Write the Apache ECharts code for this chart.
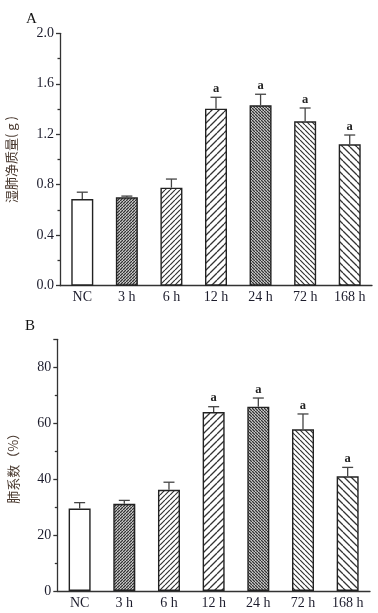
<!DOCTYPE html>
<html>
<head>
<meta charset="utf-8">
<script src="https://cdn.jsdelivr.net/npm/echarts@6/dist/echarts.min.js"></script>
<style>html,body{margin:0;padding:0;background:#fff}#c{width:378px;height:613px}</style>
</head>
<body>
<div id="c"></div>
<script>
var categories = ['NC', '3 h', '6 h', '12 h', '24 h', '72 h', '168 h'];
var wetMass = [0.687, 0.700, 0.777, 1.403, 1.430, 1.303, 1.120];
var wetMassErr = [0.054, 0.010, 0.068, 0.090, 0.087, 0.105, 0.074];
var lungIndex = [29.5, 31.2, 36.2, 64.0, 65.9, 57.8, 41.0];
var lungIndexErr = [2.1, 1.2, 2.7, 1.9, 3.1, 5.5, 3.2];
var sigMarks = ['', '', '', 'a', 'a', 'a', 'a'];
var yTicksA = [0, 0.4, 0.8, 1.2, 1.6, 2.0];
var yTicksB = [0, 20, 40, 60, 80];

function hatch(period, dir, lw, color) {
  var c = document.createElement('canvas');
  c.width = period; c.height = period;
  var g = c.getContext('2d');
  g.fillStyle = '#fff'; g.fillRect(0, 0, period, period);
  g.strokeStyle = color; g.lineWidth = lw;
  g.beginPath();
  for (var k = -1; k <= 1; k++) {
    if (dir > 0) {
      g.moveTo(k * period, period); g.lineTo(k * period + period, 0);
    } else {
      g.moveTo(k * period, 0); g.lineTo(k * period + period, period);
    }
  }
  g.stroke();
  return { image: c, repeat: 'repeat' };
}
var fills = [
  '#ffffff',
  hatch(3, 1, 1.5, '#333'),
  hatch(5, 1, 1.2, '#333'),
  hatch(7, 1, 1.3, '#333'),
  hatch(3, -1, 1.5, '#333'),
  hatch(5, -1, 1.2, '#333'),
  hatch(7, -1, 1.3, '#333')
];

function barData(vals) {
  return vals.map(function (v, i) {
    return { value: v, itemStyle: { color: fills[i] } };
  });
}
function errData(vals, errs) {
  return vals.map(function (v, i) { return [i, v, v + errs[i]]; });
}
function errRender(params, api) {
  var base = api.coord([api.value(0), api.value(1)]);
  var top = api.coord([api.value(0), api.value(2)]);
  var x = base[0], cap = 5.5;
  var children = [
    { type: 'line', shape: { x1: x, y1: base[1], x2: x, y2: top[1] }, style: { stroke: '#444', lineWidth: 1.3 } },
    { type: 'line', shape: { x1: x - cap, y1: top[1], x2: x + cap, y2: top[1] }, style: { stroke: '#444', lineWidth: 1.3 } }
  ];
  var s = sigMarks[params.dataIndex];
  if (s) {
    children.push({ type: 'text', x: x, y: top[1] - 2,
      style: { text: s, fill: '#222', font: 'bold 12.5px "Liberation Serif"', align: 'center', verticalAlign: 'bottom' } });
  }
  return { type: 'group', children: children };
}

var axisLineStyle = { color: '#333', width: 1.3 };
var labelFont = { fontFamily: 'Liberation Serif', fontSize: 14, color: '#1c1c2c' };

function xAxes(gi) {
  return [
    { gridIndex: gi, type: 'category', data: categories, boundaryGap: true,
      axisLine: { lineStyle: axisLineStyle },
      axisTick: { alignWithLabel: true, length: 4, lineStyle: axisLineStyle },
      axisLabel: Object.assign({ margin: 5, interval: 0, hideOverlap: false }, labelFont) },
    { gridIndex: gi, type: 'category', data: categories, boundaryGap: true, position: 'bottom',
      axisLine: { show: false },
      axisTick: { length: 2, lineStyle: axisLineStyle },
      axisLabel: { show: false } }
  ];
}

var chart = echarts.init(document.getElementById('c'), null, { renderer: 'canvas' });
chart.setOption({
  animation: false,
  backgroundColor: '#fff',
  title: [
    { text: 'A', left: 21, top: 7, textStyle: { fontFamily: 'Liberation Serif', fontSize: 15, fontWeight: 'normal', color: '#111' } },
    { text: 'B', left: 20, top: 314, textStyle: { fontFamily: 'Liberation Serif', fontSize: 15, fontWeight: 'normal', color: '#111' } }
  ],
  grid: [
    { left: 60, top: 33.3, right: 6, height: 252.4, outerBoundsMode: 'none', containLabel: false },
    { left: 57.3, top: 339.3, right: 8, height: 251.7, outerBoundsMode: 'none', containLabel: false }
  ],
  xAxis: xAxes(0).concat(xAxes(1)),
  yAxis: [
    { gridIndex: 0, type: 'value', min: 0, max: 2.0, interval: 0.4,
      name: '湿肺净质量( g )', nameLocation: 'middle', nameGap: 42,
      nameTextStyle: { fontFamily: 'Noto Sans CJK SC', fontSize: 13, color: '#4a3a30' },
      axisLine: { show: true, lineStyle: axisLineStyle },
      axisTick: { show: true, length: 4, lineStyle: axisLineStyle },
      minorTick: { show: true, splitNumber: 2, length: 2.5, lineStyle: axisLineStyle },
      splitLine: { show: false },
      axisLabel: Object.assign({ margin: 6, formatter: function (v) { return yTicksA.indexOf(+v.toFixed(1)) >= 0 ? v.toFixed(1) : ''; } }, labelFont) },
    { gridIndex: 1, type: 'value', min: 0, max: 90, interval: 20,
      name: '肺系数（%）', nameLocation: 'middle', nameGap: 38,
      nameTextStyle: { fontFamily: 'Noto Sans CJK SC', fontSize: 13, color: '#4a3a30' },
      axisLine: { show: true, lineStyle: axisLineStyle },
      axisTick: { show: true, length: 4, lineStyle: axisLineStyle },
      minorTick: { show: true, splitNumber: 2, length: 2.5, lineStyle: axisLineStyle },
      splitLine: { show: false },
      axisLabel: Object.assign({ margin: 6, formatter: function (v) { return yTicksB.indexOf(v) >= 0 ? String(v) : ''; } }, labelFont) }
  ],
  series: [
    { type: 'bar', xAxisIndex: 0, yAxisIndex: 0, data: barData(wetMass), barWidth: 22,
      itemStyle: { borderColor: '#222', borderWidth: 1.4 }, z: 2 },
    { type: 'custom', xAxisIndex: 0, yAxisIndex: 0, data: errData(wetMass, wetMassErr), renderItem: errRender, z: 3 },
    { type: 'bar', xAxisIndex: 2, yAxisIndex: 1, data: barData(lungIndex), barWidth: 22,
      itemStyle: { borderColor: '#222', borderWidth: 1.4 }, z: 2 },
    { type: 'custom', xAxisIndex: 2, yAxisIndex: 1, data: errData(lungIndex, lungIndexErr), renderItem: errRender, z: 3 }
  ]
});
</script>
</body>
</html>
